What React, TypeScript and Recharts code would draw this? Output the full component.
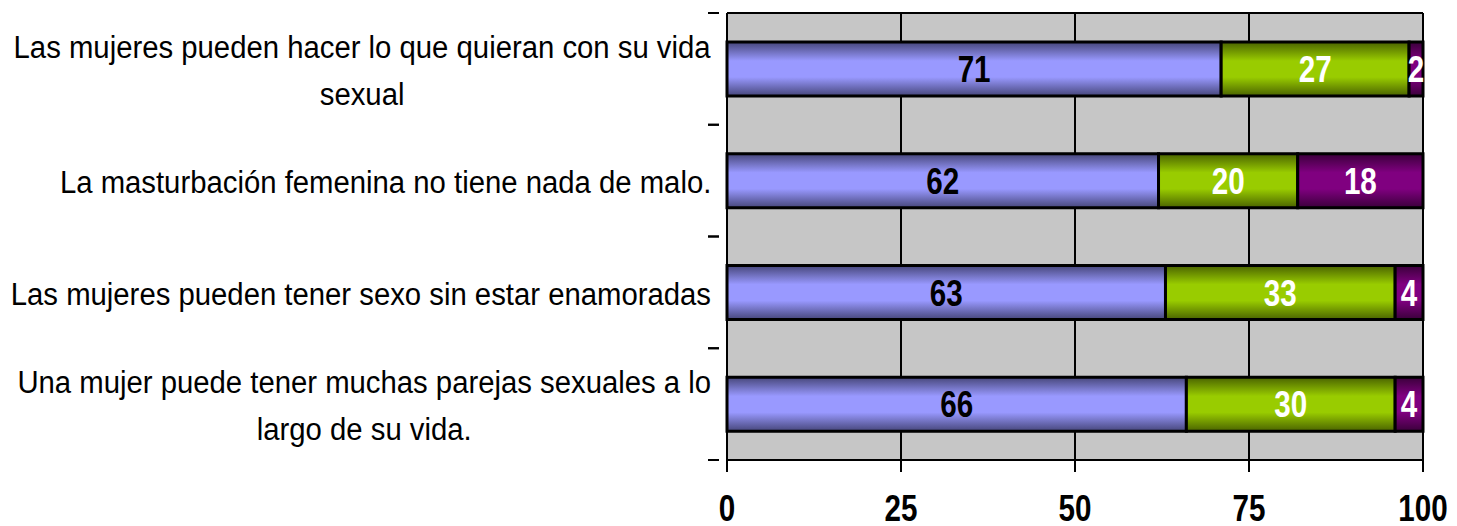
import { Bar, BarChart, CartesianGrid, LabelList, XAxis, YAxis } from "recharts";

const categories = [
  ["Las mujeres pueden hacer lo que quieran con su vida", "sexual"],
  ["La masturbación femenina no tiene nada de malo."],
  ["Las mujeres pueden tener sexo sin estar enamoradas"],
  ["Una mujer puede tener muchas parejas sexuales a lo", "largo de su vida."],
];
const deAcuerdo = [71, 62, 63, 66];
const enDesacuerdo = [27, 20, 33, 30];
const noSabe = [2, 18, 4, 4];
const xTicks = [0, 25, 50, 75, 100];

const data = categories.map((lines, i) => ({
  name: lines.join(" "),
  lines,
  deAcuerdo: deAcuerdo[i],
  enDesacuerdo: enDesacuerdo[i],
  noSabe: noSabe[i],
}));

const FONT = '"Liberation Sans", Arial, sans-serif';
const PLOT_TOP = 13;
const PLOT_HEIGHT = 447;
const BAND = PLOT_HEIGHT / categories.length;

function CategoryTick(props: any) {
  const { x, y, payload, index } = props;
  const item = data[index] ?? data.find((d) => d.name === payload.value);
  const lines = item ? item.lines : [String(payload.value)];
  return (
    <g>
      <line x1={x - 11} x2={x} y1={y - BAND / 2} y2={y - BAND / 2} stroke="#000" strokeWidth={2} />
      <line x1={x - 11} x2={x} y1={y + BAND / 2} y2={y + BAND / 2} stroke="#000" strokeWidth={2} />
      <foreignObject x={0} y={y - 61} width={711} height={126}>
        <div
          style={{
            width: 711,
            height: 126,
            display: "flex",
            flexDirection: "column",
            justifyContent: "center",
            alignItems: "flex-end",
            fontFamily: FONT,
            fontSize: 31,
            lineHeight: "47px",
            color: "#000",
          }}
        >
          <div
            style={{
              textAlign: "center",
              whiteSpace: "nowrap",
              transform: "scaleX(0.945)",
              transformOrigin: "right center",
            }}
          >
            {lines.map((l: string, k: number) => (
              <div key={k}>{l}</div>
            ))}
          </div>
        </div>
      </foreignObject>
    </g>
  );
}

function XTick(props: any) {
  const { x, y, payload } = props;
  return (
    <text
      transform={`translate(${x},${y + 26}) scale(0.8,1)`}
      textAnchor="middle"
      fill="#000"
      fontFamily={FONT}
      fontSize={37}
      fontWeight={700}
    >
      {payload.value}
    </text>
  );
}

function GradientBar(gradId: string) {
  return (props: any) => {
    const { x, y, width, height } = props;
    if (!width || width <= 0) return <g />;
    return (
      <rect x={x} y={y} width={width} height={height} fill={`url(#${gradId})`} stroke="#000" strokeWidth={3} />
    );
  };
}

function BarLabel(color: string) {
  return (props: any) => {
    const { x, y, width, height, value } = props;
    const cx = x + width / 2;
    const cy = y + height / 2;
    return (
      <text
        transform={`translate(${cx},${cy + 13}) scale(0.8,1)`}
        textAnchor="middle"
        fill={color}
        fontFamily={FONT}
        fontSize={37}
        fontWeight={700}
      >
        {value}
      </text>
    );
  };
}

export default function App() {
  return (
    <div style={{ position: "absolute", left: 0, top: 0, background: "#fff" }}>
      <BarChart
        width={1457}
        height={526}
        data={data}
        layout="vertical"
        barSize={54}
        margin={{ top: PLOT_TOP, right: 34, bottom: 0, left: 0 }}
      >
        <defs>
          <linearGradient id="gBlue" x1="0" y1="0" x2="0" y2="1">
            <stop offset="0%" stopColor="#46467a" />
            <stop offset="35%" stopColor="#9999ff" />
            <stop offset="65%" stopColor="#9999ff" />
            <stop offset="100%" stopColor="#46467a" />
          </linearGradient>
          <linearGradient id="gGreen" x1="0" y1="0" x2="0" y2="1">
            <stop offset="0%" stopColor="#4a6300" />
            <stop offset="35%" stopColor="#99cc00" />
            <stop offset="65%" stopColor="#99cc00" />
            <stop offset="100%" stopColor="#4a6300" />
          </linearGradient>
          <linearGradient id="gPurple" x1="0" y1="0" x2="0" y2="1">
            <stop offset="0%" stopColor="#3a003a" />
            <stop offset="35%" stopColor="#800080" />
            <stop offset="65%" stopColor="#800080" />
            <stop offset="100%" stopColor="#3a003a" />
          </linearGradient>
        </defs>
        <CartesianGrid
          fill="#c6c6c6"
          stroke="#000"
          strokeWidth={2}
          horizontalCoordinatesGenerator={({ offset }: any) => [offset.top, offset.top + offset.height]}
        />
        <XAxis
          type="number"
          domain={[0, 100]}
          ticks={xTicks}
          interval={0}
          height={66}
          axisLine={{ stroke: "#000", strokeWidth: 2 }}
          tickLine={{ stroke: "#000", strokeWidth: 2 }}
          tickSize={12}
          tickMargin={23}
          tick={<XTick />}
        />
        <YAxis
          type="category"
          dataKey="name"
          width={727}
          interval={0}
          axisLine={{ stroke: "#000", strokeWidth: 2 }}
          tickLine={false}
          tick={<CategoryTick />}
        />
        <Bar dataKey="deAcuerdo" name="De acuerdo" stackId="a" isAnimationActive={false} shape={GradientBar("gBlue")}>
          <LabelList dataKey="deAcuerdo" content={BarLabel("#000")} />
        </Bar>
        <Bar dataKey="enDesacuerdo" name="En desacuerdo" stackId="a" isAnimationActive={false} shape={GradientBar("gGreen")}>
          <LabelList dataKey="enDesacuerdo" content={BarLabel("#fff")} />
        </Bar>
        <Bar dataKey="noSabe" name="No sabe" stackId="a" isAnimationActive={false} shape={GradientBar("gPurple")}>
          <LabelList dataKey="noSabe" content={BarLabel("#fff")} />
        </Bar>
      </BarChart>
    </div>
  );
}
